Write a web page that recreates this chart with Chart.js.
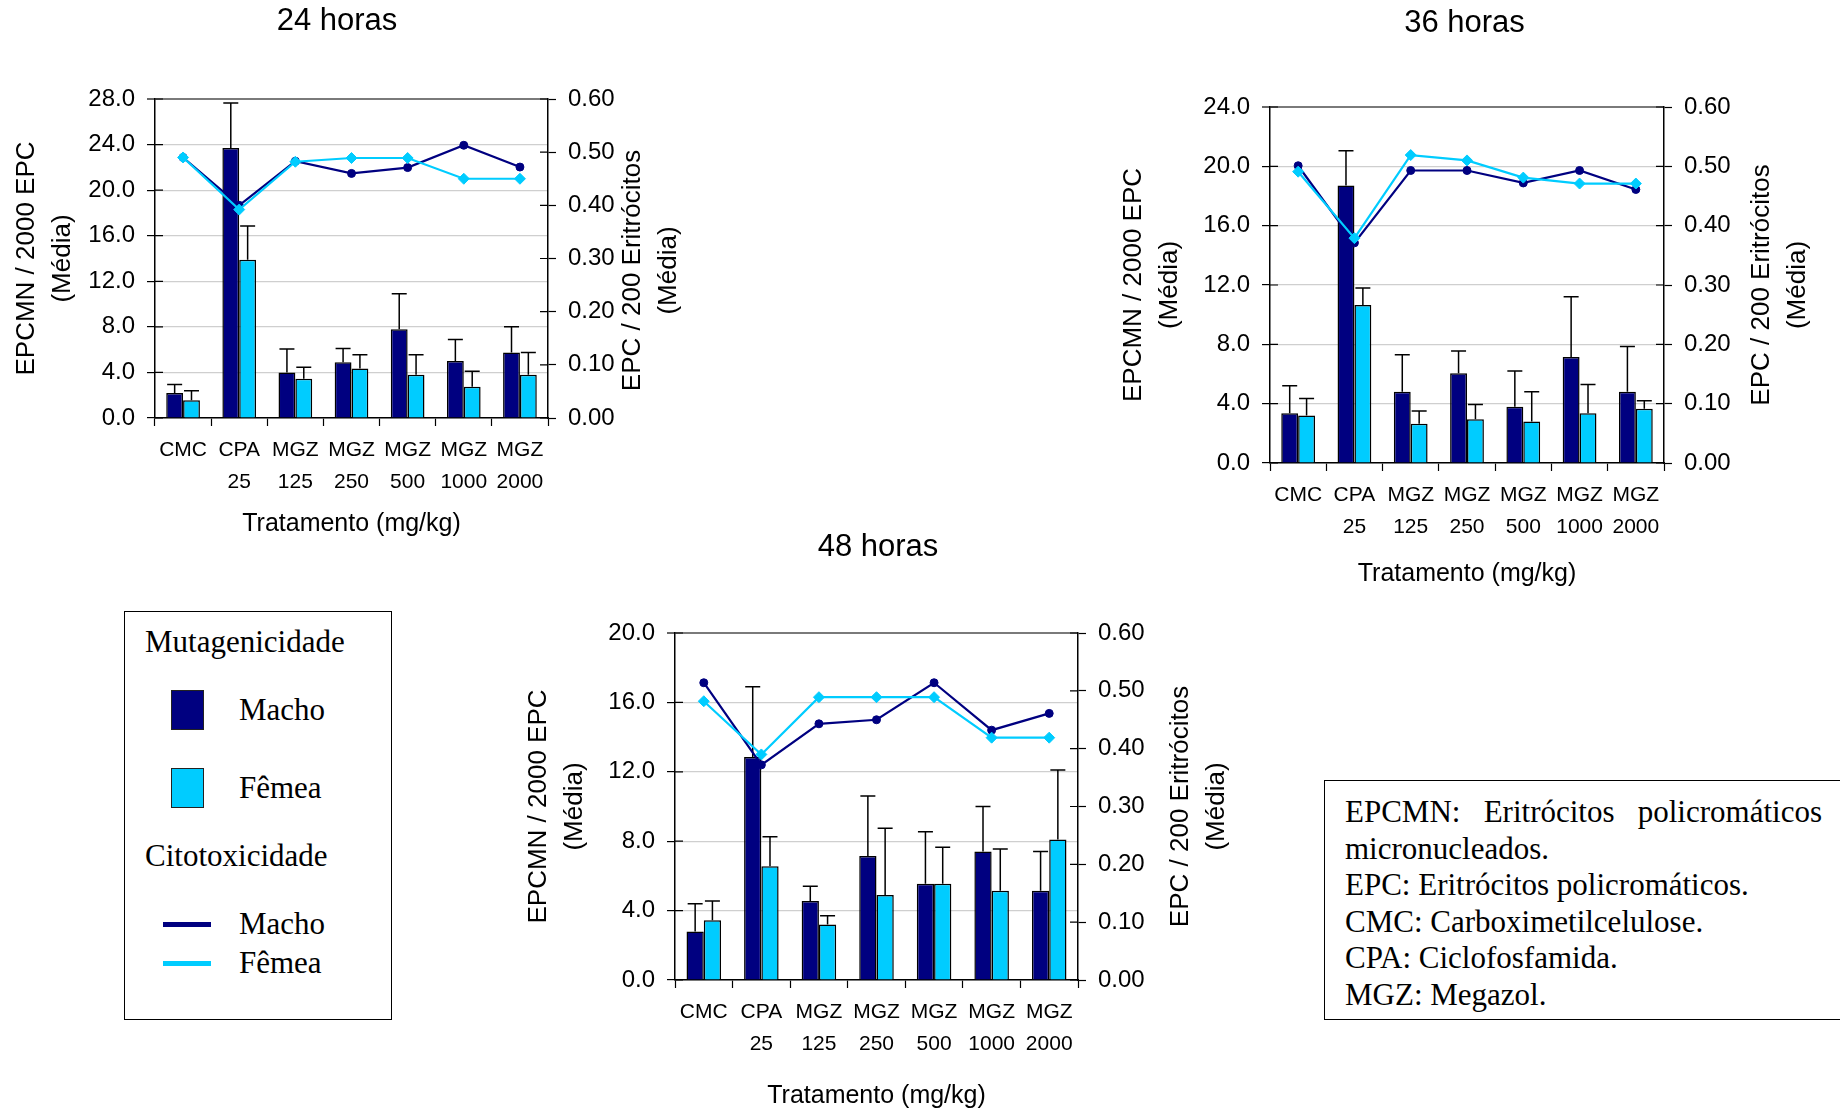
<!DOCTYPE html>
<html>
<head>
<meta charset="utf-8">
<script src="https://cdn.jsdelivr.net/npm/chart.js"></script>
<style>
  html, body { margin: 0; padding: 0; background: #fff; }
  body { width: 1840px; height: 1112px; position: relative; overflow: hidden; }
  canvas { position: absolute; }
  .box {
    position: absolute; border: 1.5px solid #000; box-sizing: border-box;
    font-family: 'Liberation Serif', 'Times New Roman', serif; font-size: 31px; color: #000;
  }
  .box .t { position: absolute; line-height: 36px; white-space: nowrap; }
  .box .sq { position: absolute; width: 33px; height: 40px; box-sizing: border-box; border: 1.5px solid #222; }
  .box .ln { position: absolute; width: 48px; height: 5px; }
  #noteBox { left: 1324px; top: 780px; width: 540px; height: 240px; padding: 13px 0 0 20px; }
  #noteBox p { margin: 0; width: 477px; line-height: 36.5px; }
  #noteBox p.j { text-align: justify; }
</style>
</head>
<body>
<canvas id="c24"></canvas>
<canvas id="c36"></canvas>
<canvas id="c48"></canvas>

<div class="box" id="legendBox" style="left:124px; top:611px; width:268px; height:409px;">
  <div class="t" style="left:20px; top:12px;">Mutagenicidade</div>
  <div class="sq" style="left:46px; top:78px; background:#000080;"></div>
  <div class="t" style="left:114px; top:80px;">Macho</div>
  <div class="sq" style="left:46px; top:156px; background:#00CCFF;"></div>
  <div class="t" style="left:114px; top:158px;">Fêmea</div>
  <div class="t" style="left:20px; top:226px;">Citotoxicidade</div>
  <div class="ln" style="left:38px; top:310px; background:#000080;"></div>
  <div class="t" style="left:114px; top:294px;">Macho</div>
  <div class="ln" style="left:38px; top:349px; background:#00CCFF;"></div>
  <div class="t" style="left:114px; top:333px;">Fêmea</div>
</div>

<div class="box" id="noteBox">
  <p class="j">EPCMN: Eritrócitos policromáticos micronucleados.</p>
  <p>EPC: Eritrócitos policromáticos.</p>
  <p>CMC: Carboximetilcelulose.</p>
  <p>CPA: Ciclofosfamida.</p>
  <p>MGZ: Megazol.</p>
</div>

<script>
const categories = ['CMC', ['CPA', '25'], ['MGZ', '125'], ['MGZ', '250'], ['MGZ', '500'], ['MGZ', '1000'], ['MGZ', '2000']];

// 24 horas
const mut24Macho = [2.2, 23.7, 4.0, 4.9, 7.8, 5.0, 5.75];
const mut24MachoErr = [0.75, 3.95, 2.05, 1.2, 3.1, 1.9, 2.25];
const mut24Femea = [1.55, 13.9, 3.45, 4.35, 3.8, 2.75, 3.8];
const mut24FemeaErr = [0.85, 2.95, 1.0, 1.2, 1.75, 1.35, 1.95];
const cit24Macho = [0.49, 0.40, 0.483, 0.46, 0.471, 0.513, 0.472];
const cit24Femea = [0.49, 0.392, 0.482, 0.489, 0.489, 0.45, 0.45];

// 36 horas
const mut36Macho = [3.35, 18.7, 4.8, 6.05, 3.8, 7.15, 4.8];
const mut36MachoErr = [1.85, 2.35, 2.5, 1.5, 2.4, 4.05, 3.05];
const mut36Femea = [3.2, 10.65, 2.65, 2.95, 2.8, 3.35, 3.65];
const mut36FemeaErr = [1.15, 1.15, 0.85, 1.0, 2.0, 1.95, 0.55];
const cit36Macho = [0.501, 0.371, 0.493, 0.493, 0.472, 0.493, 0.461];
const cit36Femea = [0.491, 0.379, 0.519, 0.51, 0.481, 0.471, 0.471];

// 48 horas
const mut48Macho = [2.8, 12.85, 4.55, 7.15, 5.55, 7.4, 5.15];
const mut48MachoErr = [1.6, 4.05, 0.85, 3.45, 3.0, 2.6, 2.25];
const mut48Femea = [3.45, 6.55, 3.2, 4.9, 5.55, 5.15, 8.1];
const mut48FemeaErr = [1.1, 1.7, 0.5, 3.85, 2.1, 2.4, 4.0];
const cit48Macho = [0.514, 0.372, 0.443, 0.45, 0.514, 0.432, 0.461];
const cit48Femea = [0.482, 0.39, 0.489, 0.489, 0.489, 0.419, 0.419];

const NAVY = '#000080';
const CYAN = '#00CCFF';
const SANS = "'Liberation Sans', Arial, sans-serif";

Chart.defaults.color = '#000';
Chart.defaults.font.family = SANS;

// error bars, cross ticks, right-hand axis title and chart title
const extras = {
  id: 'extras',
  afterDatasetDraw(chart, args) {
    const ds = chart.data.datasets[args.index];
    if (!ds.errors) return;
    const y = chart.scales.y;
    const ctx = chart.ctx;
    ctx.save();
    ctx.strokeStyle = '#000';
    ctx.lineWidth = 1.5;
    args.meta.data.forEach((bar, i) => {
      const top = y.getPixelForValue(ds.data[i] + ds.errors[i]);
      ctx.beginPath();
      ctx.moveTo(bar.x, bar.y);
      ctx.lineTo(bar.x, top);
      ctx.moveTo(bar.x - 7.5, top);
      ctx.lineTo(bar.x + 7.5, top);
      ctx.stroke();
    });
    ctx.restore();
  },
  afterDraw(chart, args, opts) {
    const { ctx, chartArea: a, scales } = chart;
    ctx.save();
    ctx.strokeStyle = '#000';
    ctx.lineWidth = 1.2;
    ctx.beginPath();
    scales.y.ticks.forEach(t => {
      const p = scales.y.getPixelForValue(t.value);
      ctx.moveTo(a.left, p); ctx.lineTo(a.left + 8, p);
    });
    scales.y1.ticks.forEach(t => {
      const p = scales.y1.getPixelForValue(t.value);
      ctx.moveTo(a.right - 8, p); ctx.lineTo(a.right, p);
    });
    ctx.stroke();

    ctx.fillStyle = '#000';
    ctx.textAlign = 'center';
    ctx.textBaseline = 'middle';
    ctx.font = '31px ' + SANS;
    ctx.fillText(opts.text, (a.left + a.right) / 2 + opts.dx, a.top + opts.dy);

    ctx.font = '26px ' + SANS;
    ctx.translate(a.right + opts.rx, (a.top + a.bottom) / 2 + opts.ry);
    ctx.rotate(-Math.PI / 2);
    ctx.fillText('EPC / 200 Eritrócitos', 0, 0);
    ctx.fillText('(Média)', 0, 36);
    ctx.restore();
  }
};

function makeChart(id, box, title, yMax, machoMut, machoErr, femeaMut, femeaErr, machoCit, femeaCit) {
  const canvas = document.getElementById(id);
  const side = 170, top = 110, bottom = box.xb;
  canvas.style.left = (box.L - side) + 'px';
  canvas.style.top = (box.T - top) + 'px';
  canvas.width = box.R - box.L + 2 * side;
  canvas.height = box.B - box.T + top + bottom;

  return new Chart(canvas, {
    data: {
      labels: categories,
      datasets: [
        { type: 'line', label: 'Fêmea', data: femeaCit, yAxisID: 'y1', order: 0,
          borderColor: CYAN, backgroundColor: CYAN, borderWidth: 2.2, tension: 0,
          pointStyle: 'rectRot', pointRadius: 5.5, pointBorderWidth: 1 },
        { type: 'line', label: 'Macho', data: machoCit, yAxisID: 'y1', order: 1,
          borderColor: NAVY, backgroundColor: NAVY, borderWidth: 2.2, tension: 0,
          pointStyle: 'circle', pointRadius: 4, pointBorderWidth: 1 },
        { type: 'bar', label: 'Macho', data: machoMut, errors: machoErr, yAxisID: 'y', order: 2,
          backgroundColor: NAVY, borderColor: '#000', borderWidth: 1.5,
          categoryPercentage: 0.6, barPercentage: 1 },
        { type: 'bar', label: 'Fêmea', data: femeaMut, errors: femeaErr, yAxisID: 'y', order: 3,
          backgroundColor: CYAN, borderColor: '#000', borderWidth: 1.5,
          categoryPercentage: 0.6, barPercentage: 1 }
      ]
    },
    options: {
      responsive: false,
      animation: false,
      layout: { padding: { top: top, left: 0, right: 0, bottom: 0 } },
      plugins: {
        legend: { display: false },
        tooltip: { enabled: false },
        extras: { text: title, dx: box.dx, dy: box.dy, rx: box.rx, ry: box.ry }
      },
      scales: {
        x: {
          offset: true,
          border: { color: '#000', width: 1.5 },
          grid: { display: true, drawOnChartArea: false, offset: true, tickLength: 8, tickColor: '#000', tickWidth: 1.2 },
          ticks: { font: { size: 21, lineHeight: 32 / 21 },
                   padding: 8, autoSkip: false, maxRotation: 0, minRotation: 0 },
          title: { display: true, text: 'Tratamento (mg/kg)', font: { size: 25, lineHeight: 1.4 },
                   padding: { top: 0, bottom: 4.5 } },
          afterFit(s) { s.height = bottom; }
        },
        y: {
          position: 'left', min: 0, max: yMax,
          border: { color: '#000', width: 1.5 },
          grid: {
            color: c => (c.tick && c.tick.value === yMax) ? '#7a7a7a' : '#cfcfcf',
            lineWidth: c => (c.tick && c.tick.value === yMax) ? 2 : 1.2,
            tickLength: 8, tickColor: '#000', tickWidth: 1.2
          },
          ticks: { stepSize: 4, font: { size: 24 }, padding: 12, callback: v => v.toFixed(1) },
          title: { display: true, text: ['EPCMN / 2000 EPC', '(Média)'], font: { size: 26, lineHeight: 36 / 26 }, padding: box.lp },
          afterFit(s) { s.width = side; }
        },
        y1: {
          position: 'right', min: 0, max: 0.6,
          border: { color: '#000', width: 1.5 },
          grid: { drawOnChartArea: false, tickLength: 8, tickColor: '#000', tickWidth: 1.2 },
          ticks: { stepSize: 0.1, font: { size: 24 }, padding: 12, callback: v => v.toFixed(2) },
          afterFit(s) { s.width = side; }
        }
      }
    },
    plugins: [extras]
  });
}

makeChart('c24', { L: 155, T: 99, R: 548, B: 418, dx: -14.5, dy: -78, rx: 85, ry: 12, lp: 24, xb: 128 }, '24 horas', 28,
  mut24Macho, mut24MachoErr, mut24Femea, mut24FemeaErr, cit24Macho, cit24Femea);
makeChart('c36', { L: 1270, T: 107, R: 1664, B: 463, dx: -2.5, dy: -83.5, rx: 98, ry: 0, lp: 16, xb: 133 }, '36 horas', 24,
  mut36Macho, mut36MachoErr, mut36Femea, mut36FemeaErr, cit36Macho, cit36Femea);
makeChart('c48', { L: 675, T: 633, R: 1078, B: 980, dx: 1.5, dy: -86, rx: 103, ry: 0, lp: 16, xb: 138 }, '48 horas', 20,
  mut48Macho, mut48MachoErr, mut48Femea, mut48FemeaErr, cit48Macho, cit48Femea);
</script>
</body>
</html>
